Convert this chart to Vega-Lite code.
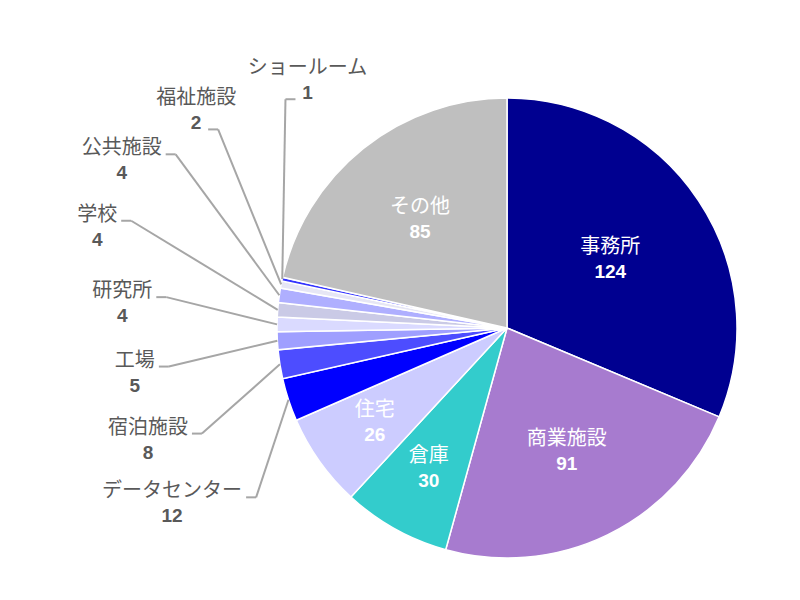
{
  "$schema": "https://vega.github.io/schema/vega-lite/v6.json",
  "autosize": "none",
  "width": 460,
  "height": 460,
  "padding": {"left": 277, "top": 98, "right": 63, "bottom": 42},
  "background": "white",
  "view": {"stroke": null},
  "data": {
    "values": [
      {"cat": "事務所", "value": 124, "idx": 0},
      {"cat": "商業施設", "value": 91, "idx": 1},
      {"cat": "倉庫", "value": 30, "idx": 2},
      {"cat": "住宅", "value": 26, "idx": 3},
      {"cat": "データセンター", "value": 12, "idx": 4},
      {"cat": "宿泊施設", "value": 8, "idx": 5},
      {"cat": "工場", "value": 5, "idx": 6},
      {"cat": "研究所", "value": 4, "idx": 7},
      {"cat": "学校", "value": 4, "idx": 8},
      {"cat": "公共施設", "value": 4, "idx": 9},
      {"cat": "福祉施設", "value": 2, "idx": 10},
      {"cat": "ショールーム", "value": 1, "idx": 11},
      {"cat": "その他", "value": 85, "idx": 12}
    ]
  },
  "transform": [
    {"window": [{"op": "sum", "field": "value", "as": "cum"}], "sort": [{"field": "idx"}], "frame": [null, 0]},
    {"joinaggregate": [{"op": "sum", "field": "value", "as": "total"}]},
    {"calculate": "2*PI*(datum.cum - datum.value/2)/datum.total", "as": "mid"},
    {"calculate": "datum.idx >= 4 && datum.idx <= 11", "as": "small"},
    {"calculate": "datum.idx - 4", "as": "k"},
    {"calculate": "(244 + 10.5*datum.k - 1.5*exp(-pow(datum.k - 5, 2)) + 5*pow(max(0, datum.k - 6), 2))*PI/180", "as": "phi"},
    {"calculate": "1.62 + 0.27*exp(-pow(datum.k - 4.5, 2)/1.5) - 0.2*pow(max(0, datum.k - 6), 2)", "as": "lr"},
    {"calculate": "0.75 - 0.0017*datum.value", "as": "ir"},
    {"calculate": "sin(datum.mid)", "as": "ex"},
    {"calculate": "cos(datum.mid)", "as": "ey"},
    {"calculate": "datum.small ? datum.lr*sin(datum.phi) : datum.ir*sin(datum.mid)", "as": "lx"},
    {"calculate": "datum.small ? datum.lr*cos(datum.phi) : datum.ir*cos(datum.mid)", "as": "ly"},
    {"calculate": "datum.k >= 7 ? datum.lx - 12/230 : (datum.k == 6 ? datum.lx + 12/230 : datum.lx + (10*length(datum.cat) + 4)/230)", "as": "sx"},
    {"calculate": "datum.k >= 7 ? datum.sx - 10/230 : datum.sx + 10/230", "as": "elx"},
    {"calculate": "datum.k >= 6 ? datum.ly - 31/230 : datum.ly - 6/230", "as": "sy"}
  ],
  "layer": [
    {
      "mark": {"type": "arc", "stroke": "white", "strokeWidth": 1.5},
      "encoding": {
        "theta": {"field": "value", "type": "quantitative", "stack": true},
        "order": {"field": "idx", "type": "quantitative"},
        "color": {
          "field": "cat",
          "type": "nominal",
          "legend": null,
          "scale": {
            "domain": ["事務所", "商業施設", "倉庫", "住宅", "データセンター", "宿泊施設", "工場", "研究所", "学校", "公共施設", "福祉施設", "ショールーム", "その他"],
            "range": ["#000090", "#A77BCF", "#33CCCC", "#CCCCFF", "#0000FF", "#4D4DFF", "#9F9FFF", "#DADAFF", "#CACAE6", "#AFAFFF", "#E6E6F5", "#3333FF", "#BFBFBF"]
          }
        }
      }
    },
    {
      "transform": [{"filter": "datum.small"}],
      "mark": {"type": "rule", "color": "#A6A6A6", "strokeWidth": 2},
      "encoding": {
        "x": {"field": "ex", "type": "quantitative", "scale": {"domain": [-1, 1], "nice": false, "zero": false}, "axis": null},
        "y": {"field": "ey", "type": "quantitative", "scale": {"domain": [-1, 1], "nice": false, "zero": false}, "axis": null},
        "x2": {"field": "elx"},
        "y2": {"field": "sy"}
      }
    },
    {
      "transform": [{"filter": "datum.small"}],
      "mark": {"type": "rule", "color": "#A6A6A6", "strokeWidth": 2},
      "encoding": {
        "x": {"field": "elx", "type": "quantitative", "scale": {"domain": [-1, 1], "nice": false, "zero": false}, "axis": null},
        "y": {"field": "sy", "type": "quantitative", "scale": {"domain": [-1, 1], "nice": false, "zero": false}, "axis": null},
        "x2": {"field": "sx"}
      }
    },
    {
      "transform": [{"filter": "datum.small"}],
      "mark": {"type": "text", "font": "Noto Sans CJK JP", "fontSize": 20, "color": "#595959", "align": "center", "baseline": "middle"},
      "encoding": {
        "x": {"field": "lx", "type": "quantitative", "scale": {"domain": [-1, 1], "nice": false, "zero": false}, "axis": null},
        "y": {"field": "ly", "type": "quantitative", "scale": {"domain": [-1, 1], "nice": false, "zero": false}, "axis": null},
        "text": {"field": "cat"}
      }
    },
    {
      "transform": [{"filter": "datum.small"}],
      "mark": {"type": "text", "font": "Liberation Sans", "fontSize": 19, "fontWeight": "bold", "color": "#595959", "align": "center", "baseline": "middle", "dy": 25},
      "encoding": {
        "x": {"field": "lx", "type": "quantitative", "scale": {"domain": [-1, 1], "nice": false, "zero": false}, "axis": null},
        "y": {"field": "ly", "type": "quantitative", "scale": {"domain": [-1, 1], "nice": false, "zero": false}, "axis": null},
        "text": {"field": "value"}
      }
    },
    {
      "transform": [{"filter": "!datum.small"}],
      "mark": {"type": "text", "font": "Noto Sans CJK JP", "fontSize": 20, "color": "white", "align": "center", "baseline": "middle", "dy": -12},
      "encoding": {
        "x": {"field": "lx", "type": "quantitative", "scale": {"domain": [-1, 1], "nice": false, "zero": false}, "axis": null},
        "y": {"field": "ly", "type": "quantitative", "scale": {"domain": [-1, 1], "nice": false, "zero": false}, "axis": null},
        "text": {"field": "cat"}
      }
    },
    {
      "transform": [{"filter": "!datum.small"}],
      "mark": {"type": "text", "font": "Liberation Sans", "fontSize": 19, "fontWeight": "bold", "color": "white", "align": "center", "baseline": "middle", "dy": 13},
      "encoding": {
        "x": {"field": "lx", "type": "quantitative", "scale": {"domain": [-1, 1], "nice": false, "zero": false}, "axis": null},
        "y": {"field": "ly", "type": "quantitative", "scale": {"domain": [-1, 1], "nice": false, "zero": false}, "axis": null},
        "text": {"field": "value"}
      }
    }
  ]
}
